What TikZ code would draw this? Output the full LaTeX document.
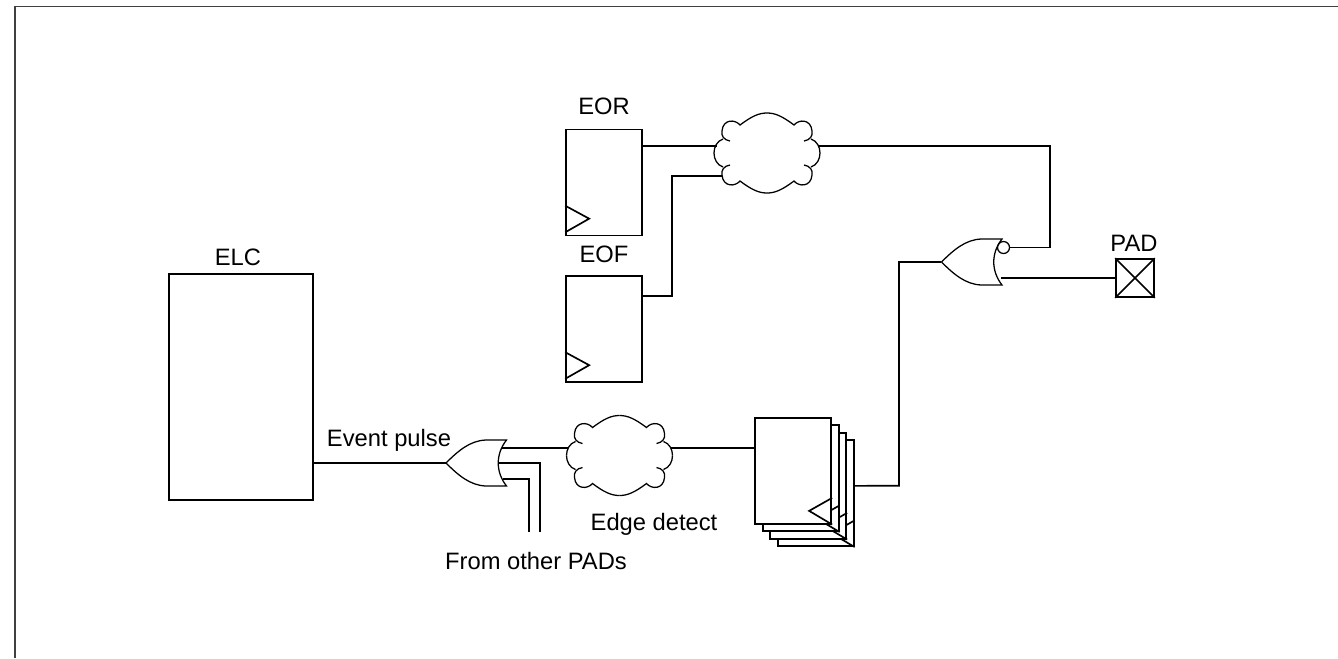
\documentclass[tikz,border=0pt]{standalone}
\usepackage{fontspec}
\setmainfont{Liberation Sans}
\usetikzlibrary{positioning}
\definecolor{framecolor}{HTML}{404040}

% one corner of a logic cloud, mirrored for the other three
\newcommand{\cloudblob}[1]{%
  \foreach \sx/\sy in {1/1,-1/1,1/-1,-1/-1} {
    \begin{scope}[shift={(#1.center)},xscale=\sx,yscale=\sy]
      \draw[gateline] (0,40) .. controls (8,40) and (15,37) .. (27,28)
        .. controls (32,34) and (44,34) .. (45,22)
        .. controls (46,17) and (43,13) .. (37,12);
      \draw[gateline] (44,14) .. controls (50,12) and (53,6) .. (53,0);
    \end{scope}
  }%
}
% or-gate body, #1 is the tip
\newcommand{\orbody}[1]{%
  \begin{scope}[shift={(#1.center)}]
    \draw[gateline] (0,0) .. controls (12,-12) and (24,-22.5) .. (40,-23)
      -- (60.5,-23) .. controls (49.5,-9) and (49.5,9) .. (60.5,23)
      -- (40,23) .. controls (24,22.5) and (12,12) .. (0,0);
  \end{scope}%
}

\begin{document}
\begin{tikzpicture}[
    x=0.75pt, y=-0.75pt,
    wire/.style={draw, line width=1.25pt},
    gateline/.style={draw, line width=0.95pt},
    reg/.style={draw, line width=1.25pt, fill=white, inner sep=0pt,
                minimum width=57pt, minimum height=79.5pt},
    cloudbox/.style={inner sep=0pt, minimum width=79.5pt, minimum height=60pt},
    tipnode/.style={inner sep=0pt, minimum size=0pt},
    lbl/.style={inner sep=0pt, font=\fontsize{17.8}{20}\selectfont}
]
\useasboundingbox (0,0) rectangle (1338,658);
\draw[framecolor, line width=1pt] (15,658) -- (15,6.5) -- (1338,6.5);

% left side
\node[draw, line width=1.25pt, inner sep=0pt, minimum width=108pt, minimum height=169.5pt] (elc) at (241,387) {};
\node[lbl] (elclbl) at (238,257) {ELC};
\node[lbl] (pulselbl) at (389,440) {Event pulse};
\node[tipnode] (ortip) at (446,463) {};
\orbody{ortip}
\draw[wire] (elc.east |- ortip) -- (ortip);

% the three inputs on the back of the or-gate
\coordinate (orina) at (502,448);
\coordinate (orinb) at (498,463);
\coordinate (orinc) at (503,479);
\coordinate (padb) at (540,532);
\coordinate (padc) at (529,532);
\node[lbl] (padslbl) at (536,561) {From other PADs};

\node[cloudbox] (edge) at (619.5,455.5) {};
\cloudblob{edge}
\node[lbl] (edgelbl) at (654,524) {Edge detect};
\coordinate (edgein) at (568,448);
\coordinate (edgeout) at (671,448);
\draw[wire] (orina) -- (edgein);
\draw[wire] (orinb) -| (padb);
\draw[wire] (orinc) -| (padc);

% stack of flops, back to front
\foreach \i in {3,2,1,0} {
  \node[reg] (ff\i) at (793.3+7.5*\i,470.7+7.5*\i) {};
  \draw[wire] ([yshift=20pt]ff\i.south east) -- ++(-23,13) -- (ff\i.south east);
}
\draw[wire] (edgeout) -- (edgeout -| ff0.west);

% top registers
\node[reg] (eor) at (604,182.5) {};
\draw[wire] ([yshift=23pt]eor.south west) -- ++(24,13) -- ([yshift=3pt]eor.south west);
\node[lbl] (eorlbl) at (604,106.5) {EOR};
\node[reg] (eof) at (604,329) {};
\draw[wire] ([yshift=23pt]eof.south west) -- ++(24,13) -- ([yshift=3pt]eof.south west);
\node[lbl] (eoflbl) at (604,254) {EOF};

\node[cloudbox] (mix) at (767,153) {};
\cloudblob{mix}
\coordinate (mixina) at (717,146);
\coordinate (mixinb) at (722,176);
\coordinate (mixout) at (818,146);
\coordinate (eofout) at (642,296);
\draw[wire] (eor.east |- mixina) -- (mixina);
\draw[wire] (eofout) -- (672,296) -- (672,176) -- (mixinb);

% output gate and pad
\node[tipnode] (nortip) at (941.5,262) {};
\orbody{nortip}
\node[draw, circle, gateline, inner sep=0pt, minimum size=9pt] (bubble) at (1003.5,247.5) {};
\node[draw, line width=1.25pt, inner sep=0pt, minimum size=28.5pt] (pad) at (1135,278) {};
\draw[wire] (pad.north west) -- (pad.south east);
\draw[wire] (pad.south west) -- (pad.north east);
\node[lbl] (padlbl) at (1134,243) {PAD};
\coordinate (norout) at (1001,278);
\draw[wire] (norout) -- (norout -| pad.west);
\draw[wire] (mixout) -- (1050,146) -- (1050,247.5) -- (bubble.east);
\draw[wire] ([yshift=5.5pt]ff3.east) -- (899,485.7) |- (nortip);
\end{tikzpicture}
\end{document}
